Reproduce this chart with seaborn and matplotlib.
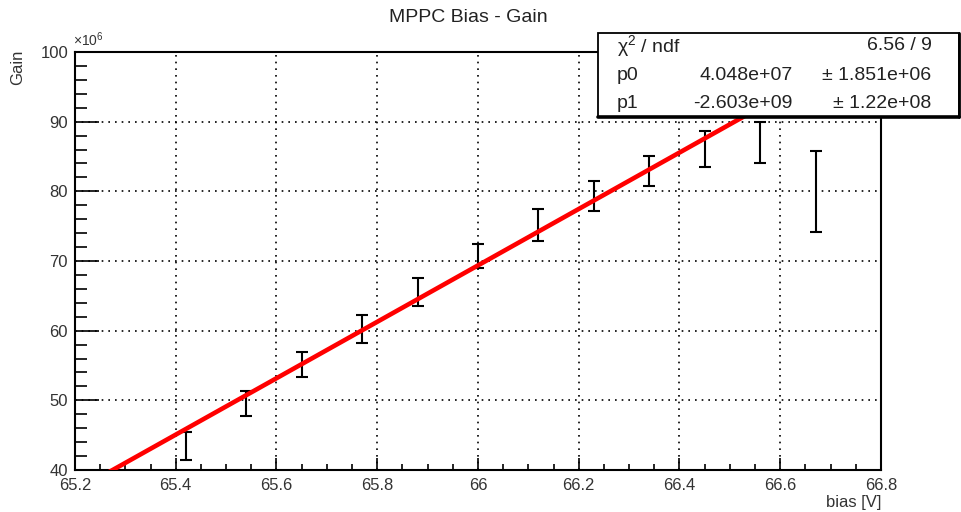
import numpy as np
import pandas as pd
import matplotlib
matplotlib.use("Agg")
import matplotlib.pyplot as plt
import seaborn as sns
from matplotlib.patches import Rectangle
from matplotlib.lines import Line2D
from matplotlib.ticker import MultipleLocator

# ---- data (gain in units of 1e6) ----
bias = [65.42, 65.54, 65.65, 65.77, 65.88, 66.00, 66.12, 66.23, 66.34, 66.45, 66.56, 66.67]
gain = [43.4, 49.5, 55.1, 60.25, 65.5, 70.7, 75.15, 79.3, 82.9, 86.05, 87.0, 80.0]
gain_err = [2.0, 1.8, 1.8, 1.95, 2.0, 1.75, 2.35, 2.15, 2.15, 2.6, 2.9, 5.8]
fit_x = [65.25, 66.67]
fit_y = [39.0, 96.5]
x_ticks = [65.2, 65.4, 65.6, 65.8, 66.0, 66.2, 66.4, 66.6, 66.8]
x_tick_labels = ["65.2", "65.4", "65.6", "65.8", "66", "66.2", "66.4", "66.6", "66.8"]
y_ticks = [40, 50, 60, 70, 80, 90, 100]
stats_names = ["p0", "p1"]
stats_vals = ["4.048e+07", "-2.603e+09"]
stats_errs = ["\u00b1 1.851e+06", "\u00b1 1.22e+08"]
chi2_text = "6.56 / 9"

sns.set_theme(style="white")
plt.rcParams["font.family"] = ["Liberation Sans", "DejaVu Sans"]
plt.rcParams["mathtext.fontset"] = "custom"
plt.rcParams["mathtext.rm"] = "Liberation Sans"
plt.rcParams["mathtext.it"] = "Liberation Sans"

W, H = 961, 512
fig = plt.figure(figsize=(W / 100, H / 100), dpi=100)
fig.patch.set_facecolor("white")

def P(x, y):
    return (x / W, 1 - y / H)

L, R, T, B = 75, 881, 52, 470
ax = fig.add_axes([L / W, 1 - B / H, (R - L) / W, (B - T) / H])
ax.set_facecolor("white")

df_pts = pd.DataFrame({"bias": bias, "gain": gain, "err": gain_err})
df_fit = pd.DataFrame({"bias": fit_x, "gain": fit_y})

ax.errorbar(df_pts["bias"], df_pts["gain"], yerr=df_pts["err"], fmt="none",
            ecolor="black", elinewidth=1.5, capsize=4.3, capthick=1.5, zorder=3)
sns.lineplot(data=df_fit, x="bias", y="gain", ax=ax, color="red", lw=3.3,
             zorder=4, legend=False)

ax.set_xlim(65.2, 66.8)
ax.set_ylim(40, 100)
ax.set_xticks(x_ticks)
ax.set_xticklabels(x_tick_labels)
ax.set_yticks(y_ticks)
ax.xaxis.set_minor_locator(MultipleLocator(0.05))
ax.yaxis.set_minor_locator(MultipleLocator(2))
ax.set_xlabel("")
ax.set_ylabel("")

ax.grid(True, which="major", color="black", linestyle=(0, (1, 3)), lw=1.2)
ax.set_axisbelow(True)

ax.tick_params(axis="both", which="both", direction="in", colors="black",
               bottom=True, left=True, top=False, right=False,
               labelsize=12, width=1.2)
ax.tick_params(axis="y", which="major", length=17, pad=5)
ax.tick_params(axis="y", which="minor", length=8.6)
ax.tick_params(axis="x", which="major", length=8.6, pad=5.5)
ax.tick_params(axis="x", which="minor", length=4.5)
for lab in ax.get_xticklabels() + ax.get_yticklabels():
    lab.set_color("#333333")

for s in ax.spines.values():
    s.set_visible(True)
    s.set_color("black")
    s.set_linewidth(1.5)

# titles / labels
fig.text(*P(468, 18), "MPPC Bias - Gain", ha="center", va="center",
         fontsize=14, color="#222222")
fig.text(*P(881, 502), "bias [V]", ha="right", va="center", fontsize=12,
         color="#333333")
fig.text(*P(18, 50), "Gain", ha="center", va="top", rotation=90, fontsize=12,
         color="#333333")
fig.text(*P(73, 49), r"$\times10^{6}$", ha="left", va="bottom", fontsize=10,
         color="#333333")

# stats box
bx0, by0, bx1, by1 = 598, 33, 959, 117
rect = Rectangle(P(bx0, by1), (bx1 - bx0) / W, (by1 - by0) / H,
                 transform=fig.transFigure, facecolor="white",
                 edgecolor="black", lw=1.3, zorder=5)
fig.add_artist(rect)
fig.add_artist(Line2D([bx0 / W, bx1 / W], [1 - by1 / H, 1 - by1 / H],
                      transform=fig.transFigure, color="black", lw=2.6, zorder=6))
fig.add_artist(Line2D([bx1 / W, bx1 / W], [1 - by1 / H, 1 - by0 / H],
                      transform=fig.transFigure, color="black", lw=2.0, zorder=6))

fs = 14
fig.text(*P(617, 46), "\u03c7$^{2}$ / ndf", ha="left", va="center", fontsize=fs,
         color="#222222", zorder=7)
fig.text(*P(932, 46), chi2_text, ha="right", va="center", fontsize=fs,
         color="#222222", zorder=7)
rows_y = [76, 103]
for name, val, err, yy in zip(stats_names, stats_vals, stats_errs, rows_y):
    fig.text(*P(617, yy), name, ha="left", va="center", fontsize=fs,
             color="#222222", zorder=7)
    fig.text(*P(793, yy), val, ha="right", va="center", fontsize=fs,
             color="#222222", zorder=7)
    fig.text(*P(931, yy), err, ha="right", va="center", fontsize=fs,
             color="#222222", zorder=7)

fig.savefig("out.png", dpi=100, facecolor="white")
